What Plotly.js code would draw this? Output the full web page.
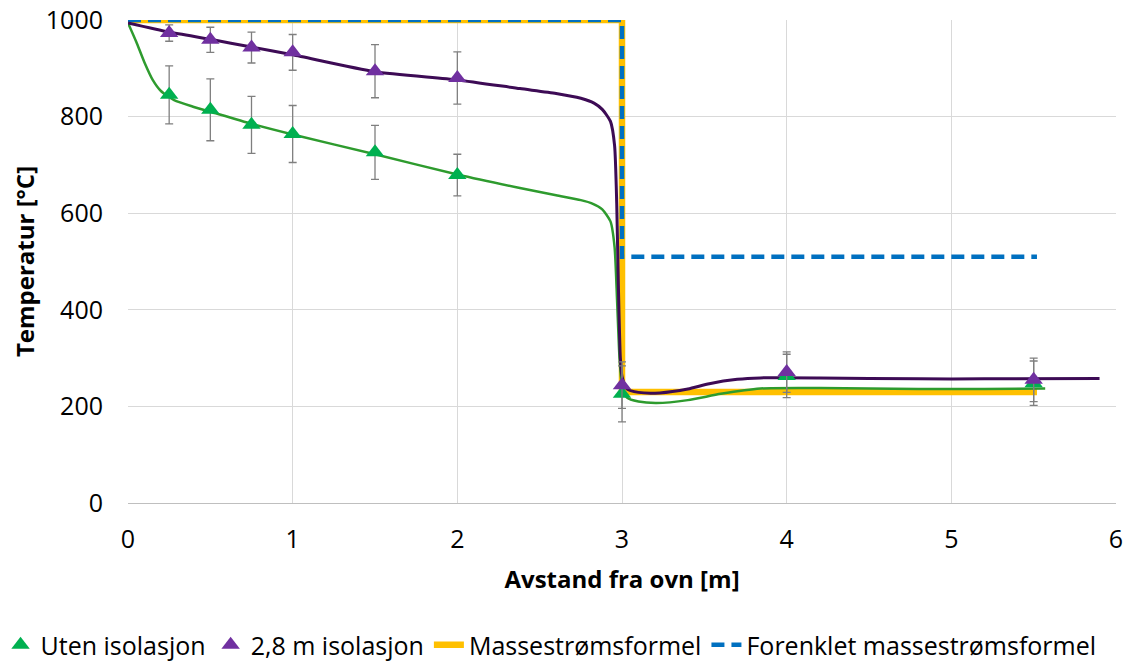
<!DOCTYPE html>
<html>
<head>
<meta charset="utf-8">
<script src="https://cdn.plot.ly/plotly-3.0.1.min.js"></script>
<style>
  html, body { margin: 0; padding: 0; background: #fff; }
  #chart { width: 1136px; height: 661px; }
</style>
</head>
<body>
<div id="chart"></div>
<script>
// Measured temperatures along the pipe, with standard deviation
const measX = [0.25, 0.5, 0.75, 1, 1.5, 2, 3, 4, 5.5];
const utenY = [845, 814, 783, 764, 726, 679, 226, 263, 248];
const utenErr = [60, 64, 59, 59, 56, 43, 58, 45, 46];
const isoY = [973, 959, 943, 933, 894, 880, 244, 271, 255];
const isoErr = [17, 26, 32, 37, 55, 54, 48, 42, 45];

// Smoothed trend curves
const utenCurveX = [0, 0.05, 0.1, 0.15, 0.2, 0.28, 0.4, 0.5, 0.75, 1, 1.5, 2, 2.38, 2.6, 2.75, 2.82, 2.88, 2.93, 2.955, 2.97, 2.985, 3.0, 3.03, 3.1, 3.21, 3.4, 3.6, 3.84, 4.2, 4.8, 5.2, 5.57];
const utenCurveY = [994, 955, 912, 876, 853, 834, 820, 810, 785, 763, 722, 680, 652, 637, 627, 620, 608, 583, 530, 420, 300, 245, 218, 210, 207, 213, 226, 237, 238, 236, 236, 237];
const isoCurveX = [0, 0.25, 0.5, 0.75, 1, 1.5, 2, 2.38, 2.6, 2.75, 2.83, 2.88, 2.93, 2.955, 2.968, 2.978, 2.99, 3.0, 3.03, 3.1, 3.23, 3.4, 3.53, 3.7, 3.84, 4.2, 4.8, 5.2, 5.9];
const isoCurveY = [994, 975, 960, 944, 928, 893, 876, 858, 848, 838, 828, 815, 790, 740, 620, 450, 300, 262, 236, 229, 228, 236, 247, 256, 259, 259, 257, 257, 258];

// Model results
const modelX = [0, 3, 3, 5.52];
const modelY = [1000, 1000, 230, 230];
const simpleX = [0, 3, 3, 5.52];
const simpleY = [1000, 1000, 510, 510];

const names = ['Uten isolasjon', '2,8 m isolasjon', 'Massestrømsformel', 'Forenklet massestrømsformel'];

const green = '#00B050';
const purple = '#7030A0';
const font = 'Open Sans, Noto Sans, Liberation Sans, sans-serif';

const errStyle = (arr) => ({
  type: 'data', array: arr, visible: true,
  color: '#7F7F7F', thickness: 1.3, width: 4
});

const traces = [
  {
    x: modelX, y: modelY, mode: 'lines', name: names[2], legendrank: 3,
    line: { color: '#FFC000', width: 6.5 }
  },
  {
    x: simpleX, y: simpleY, mode: 'lines', name: names[3], legendrank: 4,
    line: { color: '#0070C0', width: 4.5, dash: '13px,7px' }
  },
  {
    x: utenCurveX, y: utenCurveY, mode: 'lines', showlegend: false, hoverinfo: 'skip',
    line: { color: '#2E9B2E', width: 2.5, shape: 'spline', smoothing: 0.6 }
  },
  {
    x: isoCurveX, y: isoCurveY, mode: 'lines', showlegend: false, hoverinfo: 'skip',
    line: { color: '#3D0B55', width: 3, shape: 'spline', smoothing: 0.6 }
  },
  {
    x: measX, y: utenY, mode: 'markers', name: names[0], legendrank: 1,
    marker: { symbol: 'triangle-up', size: 16, color: green },
    error_y: errStyle(utenErr)
  },
  {
    x: measX, y: isoY, mode: 'markers', name: names[1], legendrank: 2,
    marker: { symbol: 'triangle-up', size: 16, color: purple },
    error_y: errStyle(isoErr)
  }
];

const layout = {
  width: 1136, height: 661,
  margin: { l: 128, r: 20, t: 20, b: 158, autoexpand: false },
  paper_bgcolor: '#ffffff', plot_bgcolor: '#ffffff',
  font: { family: font, size: 24, color: '#000000' },
  showlegend: true,
  legend: {
    orientation: 'h', x: -0.129, xanchor: 'left',
    y: -0.294, yanchor: 'middle',
    font: { family: font, size: 25, color: '#000' },
    itemwidth: 30, tracegroupgap: 0
  },
  xaxis: {
    range: [0, 6], dtick: 1, tick0: 0,
    showgrid: true, gridcolor: '#D9D9D9', gridwidth: 1,
    zeroline: false, showline: true, linecolor: '#BFBFBF', linewidth: 1.3,
    ticks: '', ticklabelstandoff: 14,
    tickfont: { family: font, size: 25, color: '#000' },
    title: { text: 'Avstand fra ovn [m]', font: { family: font, size: 24, color: '#000', weight: 'bold' }, standoff: 17 }
  },
  yaxis: {
    range: [0, 1000], dtick: 200, tick0: 0,
    showgrid: true, gridcolor: '#D9D9D9', gridwidth: 1,
    zeroline: false, showline: false,
    ticks: '', ticklabelstandoff: 24,
    tickfont: { family: font, size: 25, color: '#000' },
    title: { text: 'Temperatur [°C]', font: { family: font, size: 24, color: '#000', weight: 'bold' }, standoff: 4 }
  }
};

Plotly.newPlot('chart', traces, layout, { displayModeBar: false, staticPlot: true });
</script>
</body>
</html>
